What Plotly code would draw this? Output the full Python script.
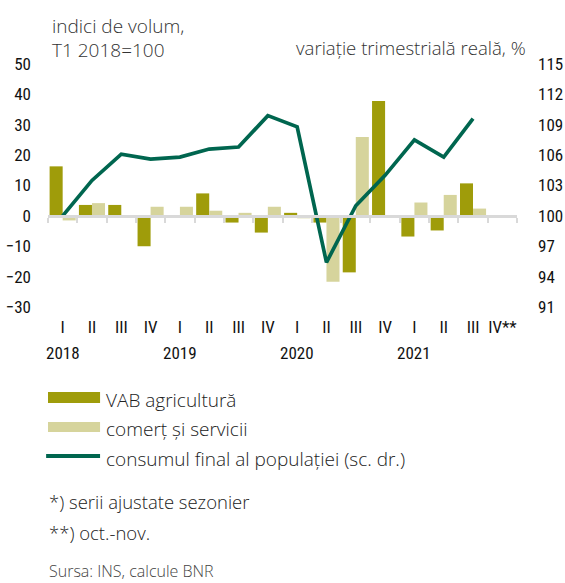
import plotly.graph_objects as go

years = ["2018", "2019", "2020", "2021"]
quarters = ["I", "II", "III", "IV", "I", "II", "III", "IV",
            "I", "II", "III", "IV", "I", "II", "III", "IV**"]
categories = [f"{y} T{q}" for y in years for q in range(1, 5)]

vab_agricultura = [16.3, 3.6, 3.6, -10.0, 0.0, 7.4, -2.2, -5.5,
                   1.0, -2.2, -18.6, 37.8, -6.8, -4.8, 10.7, None]
comert_servicii = [-1.5, 4.2, 0.0, 3.0, 3.0, 1.7, 1.0, 3.0,
                   -0.8, -21.7, 26.0, 0.0, 4.4, 6.9, 2.4, None]
consum_final = [100.0, 103.5, 106.1, 105.6, 105.8, 106.6, 106.8, 109.9,
                108.8, 95.4, 101.0, 104.0, 107.5, 105.8, 109.6, None]

left_ticks = [-30, -20, -10, 0, 10, 20, 30, 40, 50]
right_ticks = [91, 94, 97, 100, 103, 106, 109, 112, 115]

C_DARK = "#9F9C0A"
C_LIGHT = "#D6D49C"
C_LINE = "#00664F"
C_AXIS = "#D9D9D9"

NUM_FONT = "Roboto Condensed, DejaVu Sans Condensed, sans-serif"
TXT_FONT = "Open Sans, Noto Sans, sans-serif"
num_font = dict(family=NUM_FONT, size=17, color="#111111")

fig = go.Figure()
fig.add_trace(go.Bar(x=categories, y=vab_agricultura, name="VAB agricultură",
                     marker=dict(color=C_DARK, line=dict(width=0)), showlegend=False))
fig.add_trace(go.Bar(x=categories, y=comert_servicii, name="comerț și servicii",
                     marker=dict(color=C_LIGHT, line=dict(width=0)), showlegend=False))
fig.add_trace(go.Scatter(x=categories, y=consum_final, name="consumul final al populației (sc. dr.)",
                         mode="lines", line=dict(color=C_LINE, width=3.7),
                         xaxis="x2", yaxis="y2", showlegend=False))

fig.update_layout(
    width=565, height=583,
    margin=dict(l=48, r=48, t=64, b=276, autoexpand=False),
    paper_bgcolor="white", plot_bgcolor="white",
    barmode="group", bargap=0.11, bargroupgap=0,
    font=dict(family=TXT_FONT, color="#222222"),
    xaxis=dict(type="category", categoryorder="array", categoryarray=categories,
               range=[-0.5, 15.5], tickmode="array", tickvals=categories, ticktext=quarters,
               showline=False, showgrid=False, zeroline=False, ticks="",
               tickfont=num_font, ticklabelstandoff=8, automargin=False),
    xaxis2=dict(type="category", categoryorder="array", categoryarray=categories,
                range=[-0.5, 15.5], overlaying="x", anchor="free", position=0.375,
                showticklabels=False, showgrid=False, zeroline=False,
                showline=True, linecolor=C_AXIS, linewidth=3,
                ticks="outside", tickson="boundaries", ticklen=5, tickwidth=2, tickcolor=C_AXIS,
                automargin=False),
    yaxis=dict(range=[-30, 50], tickmode="array", tickvals=left_ticks,
               showgrid=False, zeroline=False, showline=False, ticks="",
               tickfont=num_font, ticklabelstandoff=16, automargin=False),
    yaxis2=dict(range=[91, 115], tickmode="array", tickvals=right_ticks,
                overlaying="y", side="right", anchor="x2",
                showgrid=False, zeroline=False, showline=False, ticks="",
                tickfont=num_font, ticklabelstandoff=20, automargin=False),
)

# year labels under the first quarter of each year
for y in years:
    fig.add_annotation(x=f"{y} T1", xref="x", y=-0.191, yref="paper", text=y,
                       showarrow=False, yanchor="middle", font=num_font)

# axis titles
title_font = dict(family=TXT_FONT, size=19, color="#333333", weight=300)
fig.add_annotation(x=0.004, y=1.158, xref="paper", yref="paper", text="indici de volum,",
                   showarrow=False, xanchor="left", yanchor="middle", font=title_font)
fig.add_annotation(x=0.004, y=1.059, xref="paper", yref="paper", text="T1 2018=100",
                   showarrow=False, xanchor="left", yanchor="middle", font=title_font)
fig.add_annotation(x=1.0235, y=1.068, xref="paper", yref="paper",
                   text="variație trimestrială reală, %",
                   showarrow=False, xanchor="right", yanchor="middle",
                   font=dict(family=TXT_FONT, size=18.6, color="#333333", weight=300))

# legend (drawn manually to match wide swatches)
fig.add_shape(type="rect", xref="paper", yref="paper", x0=0.0, x1=0.111,
              y0=-0.395, y1=-0.350, fillcolor=C_DARK, line=dict(width=0))
fig.add_shape(type="rect", xref="paper", yref="paper", x0=0.0, x1=0.111,
              y0=-0.514, y1=-0.473, fillcolor=C_LIGHT, line=dict(width=0))
fig.add_shape(type="line", xref="paper", yref="paper", x0=-0.004, x1=0.111,
              y0=-0.613, y1=-0.613, line=dict(color=C_LINE, width=4))
legend_font = dict(family=TXT_FONT, size=19, color="#222222", weight=300)
legend_items = [("VAB agricultură", -0.382), ("comerț și servicii", -0.500),
                ("consumul final al populației (sc. dr.)", -0.627)]
for txt, yy in legend_items:
    fig.add_annotation(x=0.119, y=yy, xref="paper", yref="paper", text=txt,
                       showarrow=False, xanchor="left", yanchor="middle", font=legend_font)

note_font = dict(family=TXT_FONT, size=18.5, color="#222222", weight=300)
notes = [("*) serii ajustate sezonier", -0.800), ("**) oct.-nov.", -0.928)]
for txt, yy in notes:
    fig.add_annotation(x=-0.003, y=yy, xref="paper", yref="paper", text=txt,
                       showarrow=False, xanchor="left", yanchor="middle", font=note_font)
fig.add_annotation(x=-0.003, y=-1.088, xref="paper", yref="paper", text="Sursa: INS, calcule BNR",
                   showarrow=False, xanchor="left", yanchor="middle",
                   font=dict(family=TXT_FONT, size=16, color="#444444", weight=300))

fig.write_html("out.html", config={"displayModeBar": False},
               post_script="document.body.style.margin='0';")
